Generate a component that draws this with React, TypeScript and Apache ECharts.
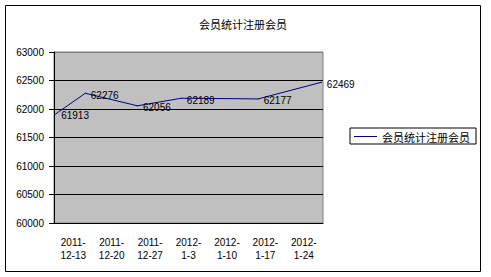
import React, { useEffect, useRef } from "react";
import * as echarts from "echarts";

const title = "会员统计注册会员";
const seriesName = "会员统计注册会员";
const categories = ["2011-12-13", "2011-12-20", "2011-12-27", "2012-1-3", "2012-1-10", "2012-1-17", "2012-1-24"];
// position of each observation along the date axis, in days from the axis start (7 days per category)
const dayOffsets = [0.3, 5.7, 15.2, 23.2, 37.2, 48.7];
const memberValues = [61913, 62276, 62056, 62189, 62177, 62469];
const yMin = 60000;
const yMax = 63000;
const yStep = 500;

const FONT = "'Liberation Sans', 'Noto Sans CJK SC', sans-serif";
const CJK = "'Noto Sans CJK SC', sans-serif";

export default function App() {
  const ref = useRef<HTMLDivElement>(null);
  useEffect(() => {
    if (!ref.current) return;
    const chart = echarts.init(ref.current, undefined, { renderer: "svg" });
    const totalDays = categories.length * 7;
    chart.setOption({
      animation: false,
      backgroundColor: "#ffffff",
      textStyle: { fontFamily: FONT },
      title: {
        text: title,
        left: 238,
        top: 13,
        textAlign: "center",
        textStyle: { fontSize: 11, fontWeight: "normal", color: "#000", fontFamily: CJK },
      },
      graphic: [
        {
          type: "rect",
          shape: { x: 5.5, y: 5.5, width: 475, height: 266 },
          style: { fill: "none", stroke: "#000", lineWidth: 1 },
          z: 100,
        },
      ],
      legend: {
        left: 350,
        top: 128,
        orient: "vertical",
        padding: [2, 6, 1, 4],
        borderColor: "#000",
        borderWidth: 1,
        backgroundColor: "#fff",
        itemWidth: 23,
        itemHeight: 1,
        itemGap: 0,
        textStyle: { fontSize: 11, color: "#000", fontFamily: CJK, lineHeight: 13 },
        data: [{ name: seriesName, icon: "rect", itemStyle: { color: "#000080" } }],
      },
      grid: {
        left: 54,
        top: 52,
        width: 269,
        height: 171,
        show: true,
        backgroundColor: "#C0C0C0",
        borderColor: "#808080",
        borderWidth: 1,
        containLabel: false,
      },
      xAxis: [
        {
          type: "category",
          data: categories,
          boundaryGap: true,
          axisLine: { lineStyle: { color: "#000", width: 1 } },
          axisTick: { inside: true, length: 4, lineStyle: { color: "#000" } },
          axisLabel: {
            color: "#000",
            fontSize: 10,
            lineHeight: 13,
            margin: 13,
            fontFamily: FONT,
            interval: 0,
            formatter: (v: string) => v.replace("-", "-\n"),
          },
          splitLine: { show: false },
        },
        {
          type: "value",
          min: 0,
          max: totalDays,
          show: false,
          position: "bottom",
        },
      ],
      yAxis: {
        type: "value",
        min: yMin,
        max: yMax,
        interval: yStep,
        axisLine: { show: true, lineStyle: { color: "#000", width: 1 } },
        axisTick: { show: true, length: 5, lineStyle: { color: "#000" } },
        axisLabel: {
          color: "#000",
          fontSize: 10,
          margin: 10,
          fontFamily: FONT,
          formatter: (v: number) => String(v),
        },
        splitLine: {
          show: true,
          lineStyle: { color: ["#000", "#000", "#000", "#000", "#000", "#000", "#808080"], width: 1 },
        },
      },
      series: [
        {
          name: seriesName,
          type: "line",
          xAxisIndex: 1,
          symbol: "circle",
          symbolSize: 1,
          showSymbol: true,
          lineStyle: { color: "#000080", width: 1 },
          itemStyle: { color: "#000080" },
          data: dayOffsets.map((d, i) => [d, memberValues[i]]),
          label: {
            show: true,
            position: "right",
            distance: 5,
            offset: [0, 2],
            color: "#000",
            fontSize: 10,
            fontFamily: FONT,
            formatter: (p: any) => String(p.value[1]),
          },
        },
      ],
    });
    return () => chart.dispose();
  }, []);
  return (
    <div
      ref={ref}
      style={{ position: "absolute", left: 0, top: 0, width: 491, height: 277 }}
    />
  );
}
